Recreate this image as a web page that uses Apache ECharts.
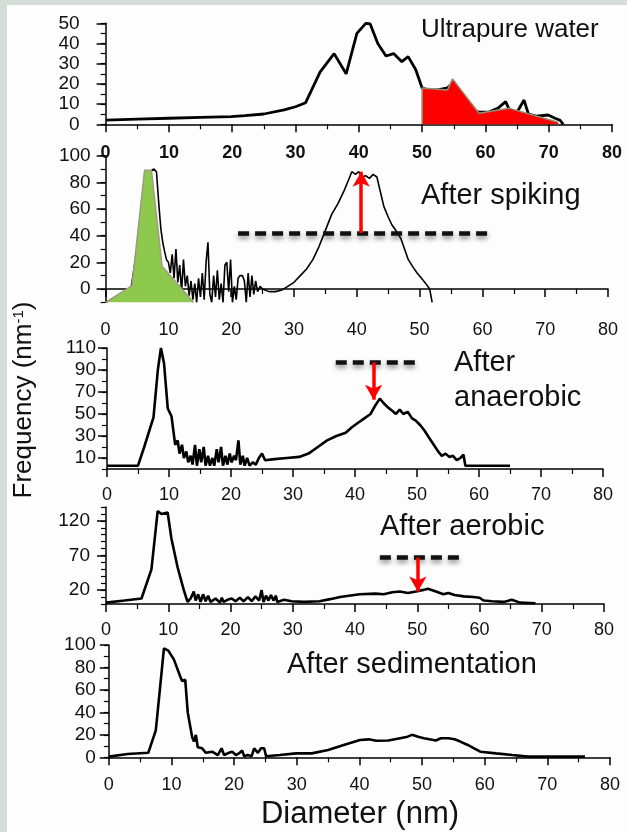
<!DOCTYPE html>
<html>
<head>
<meta charset="utf-8">
<script src="https://cdn.jsdelivr.net/npm/echarts@6/dist/echarts.min.js"></script>
<style>
html, body { margin: 0; padding: 0; background: #fff; }
#chart { width: 627px; height: 832px; }
</style>
</head>
<body>
<div id="chart"></div>
<script>
// diameter (nm) / frequency pairs
var diameterLabels = [0, 10, 20, 30, 40, 50, 60, 70, 80];

var waterCurve = [[0,2.1],[5,2.6],[10,3],[15,3.4],[19.8,3.8],[22,4.3],[25,5.1],[28.2,7.1],[30,8.7],[31.6,10.7],
  [33.9,26],[36.1,35],[38,25],[39.7,45],[41.1,50],[41.8,49.7],[43,40],[44.3,33.8],[45.5,35],[46.8,31],[47.8,33.5],
  [49,27],[50,18],[51,17],[52.5,17],[54,18],[55,21],[56.6,13.7],[57.9,7],[59,6],[60.5,6],[62,8],[63.2,11.2],
  [63.8,7],[65,6],[66.1,12],[66.8,5],[68,4],[69.9,4.6],[71,3],[71.8,2],[72.3,0]];
var waterRedZone = [[50,0],[50,18],[54,17],[54.8,22.5],[59,5.5],[63.7,8],[71.5,1]];

var spikedCurve = [[0,-10],[2,-6],[4,-1],[5,30],[6,75],[7,88],[7.7,90],[8.1,88],[8.5,62],[8.8,45],[9.1,35],[9.4,28],
  [9.7,22],[10,20],[10.3,12],[10.6,26],[10.9,8],[11.2,30],[11.5,5],[11.8,18],[12.1,-2],[12.4,22],[12.7,2],[13,10],
  [13.3,-5],[13.6,6],[13.9,-8],[14.2,4],[14.5,-10],[14.8,8],[15.1,-6],[15.4,12],[15.7,-8],[16,20],[16.3,35],[16.6,-4],
  [16.9,-10],[17.2,10],[17.5,-6],[17.8,14],[18.1,-8],[18.4,4],[18.7,-10],[19,18],[19.3,20],[19.6,-2],[19.9,22],
  [20.2,-10],[20.5,2],[20.8,-8],[21.1,8],[21.4,10],[21.8,10],[22.1,6],[22.4,-10],[22.7,12],[23,-6],[23.3,10],
  [23.6,-4],[23.9,6],[24.2,-2],[24.6,2],[25,0],[26,-2],[27,-2],[28,-1],[29,2],[30,5],[31,10],[32,15],[33,22],
  [34,32],[35,44],[36,56],[37,64],[38,74],[38.7,82],[39.2,88],[39.8,86],[40.3,88],[40.8,84],[41.4,85],[42,83],
  [42.6,86],[43.2,84],[43.8,72],[44.3,62],[45,54],[45.6,48],[46.2,44],[47,38],[47.6,30],[48.2,22],[49,16],
  [49.6,12],[50.3,8],[51,4],[51.6,0],[52,-10]];
var spikedGreenZone = [[0,-10],[4.2,2.5],[6.2,89],[7.3,89],[9,17],[14,-10]];
var spikedDash = [[21.1,42],[61.5,42]];
var spikedArrow = [[40.7,42],[40.7,88]];

var anaerobicCurve = [[0,3],[5,3],[6,20],[7.5,47],[8.2,90],[8.7,110],[9.2,96],[9.8,55],[10.4,48],[11,22],[11.4,26],
  [11.7,14],[12.1,22],[12.4,10],[12.8,16],[13.1,6],[13.5,12],[13.8,4],[14.2,22],[14.5,3],[14.9,18],[15.2,6],
  [15.6,20],[15.9,3],[16.3,12],[16.6,3],[17,10],[17.3,3],[17.7,18],[18,6],[18.4,20],[18.7,3],[19.1,12],[19.4,4],
  [19.8,14],[20.1,6],[20.5,12],[20.8,8],[21.2,26],[21.5,4],[21.9,12],[22.2,3],[22.6,10],[23,3],[23.5,6],[24,4],
  [24.5,10],[25,14],[25.5,8],[27,9],[29,10],[31,11],[32.5,14],[34,20],[35.5,26],[37,30],[38.5,33],[39.5,38],
  [40.5,42],[41.5,46],[42.5,50],[43.3,58],[44,64],[44.6,60],[45.3,56],[46,53],[46.6,50],[47.2,54],[47.8,50],
  [48.5,52],[49.2,46],[49.8,44],[50.5,40],[51.2,35],[52,28],[52.7,22],[53.4,16],[54,12],[54.6,14],[55.2,11],
  [55.8,12],[56.4,8],[57,10],[57.5,13],[57.8,3],[65,3]];
var anaerobicDash = [[36.9,97],[49.8,97]];
var anaerobicArrow = [[43,97],[43,63]];

var aerobicCurve = [[0,2],[3,5],[5.7,8],[7.3,50],[8.3,134],[8.9,130],[9.9,132],[10.5,95],[11.5,53],[12.5,20],[13.1,3],
  [13.6,8],[14.1,18],[14.4,5],[14.8,14],[15.2,3],[15.6,14],[16,4],[16.4,12],[16.8,3],[17.6,8],[18.3,2],[18.6,9],
  [18.9,3],[19.5,6],[20.2,8],[20.8,4],[21.5,9],[22.1,4],[22.8,10],[23.4,4],[24,11],[24.6,5],[25,20],[25.3,3],
  [25.7,12],[26.1,5],[26.5,13],[26.9,5],[27.3,12],[27.5,3],[28.6,6],[29.8,4],[31.8,3],[34.3,4],[36,7],[37.6,10],
  [39,12],[40.8,14],[43.3,15],[44.6,14],[46,17],[47.2,18],[48.5,16],[49.8,18],[50.8,20],[51.7,22],[53,18],
  [54.2,14],[55,16],[56,13],[57.5,11],[59,10],[60,9],[60.7,5],[62,4],[63.9,3],[65.2,6],[66.5,2],[69,1]];
var aerobicDash = [[44,67],[56.8,67]];
var aerobicArrow = [[50.1,67],[50.1,18]];

var sedimentCurve = [[0,0.6],[3,3],[6.3,4],[7.5,24],[8.2,63],[8.8,97],[9.5,95],[10.4,87],[11.4,72],[11.7,68],[12.2,69],
  [12.6,40],[13.3,18],[13.6,14],[13.9,20],[14.2,9],[14.9,8],[15.5,4],[16.5,5],[17.4,2],[18,8],[18.4,2],[19.2,4],
  [19.7,5],[20.3,2],[20.9,4],[21.3,6],[21.6,1],[22.2,2],[22.8,1],[23.2,8],[23.8,4],[24.3,8],[24.8,8],[25.1,1],
  [27.3,2],[29.9,3.5],[32.4,3.5],[35,6.5],[37.5,11],[40.1,15.4],[41.5,16],[42.7,14.8],[44.6,15],[46.5,17],
  [47.5,18],[48.4,20],[49.5,18],[50.3,17],[51.2,16],[52.2,15],[53,17],[54.2,17],[55.2,16],[56.1,14],[57.3,11],
  [58.3,8],[59.3,5],[61.8,3.5],[64.4,2],[66.9,0.6],[76,0.6]];

// y labels per panel
var waterYLabels = [0, 10, 20, 30, 40, 50];
var spikedYLabels = [0, 20, 40, 60, 80, 100];
var anaerobicYLabels = [10, 30, 50, 70, 90, 110];
var aerobicYLabels = [20, 70, 120];
var sedimentYLabels = [0, 20, 40, 60, 80, 100];

var FONT = '"Liberation Sans", Arial, sans-serif';

var grids = [
  { left: 105.6, top: 23.3, width: 506.4, height: 101 },
  { left: 105.6, top: 155.7, width: 502.4, height: 146.6 },
  { left: 107, top: 348, width: 496, height: 121 },
  { left: 106, top: 507, width: 498, height: 97 },
  { left: 108.8, top: 645, width: 501.2, height: 112.3 }
];

function xAxis(gi, margin, bold) {
  return {
    type: 'value', gridIndex: gi, min: 0, max: 80, interval: 10,
    axisLine: { lineStyle: { color: '#000', width: 1.5 } },
    axisTick: { length: 8, lineStyle: { color: '#000', width: 1.5 } },
    minorTick: { show: true, splitNumber: 2, length: 5, lineStyle: { color: '#000', width: 1.2 } },
    splitLine: { show: false },
    axisLabel: { fontSize: 18, color: '#111', fontFamily: FONT, margin: margin, fontWeight: bold ? 'bold' : 'normal' }
  };
}

// main y axis: labels + long ticks, second one: short ticks
function yAxes(gi, min, max, labels, step, margin) {
  return [{
    type: 'value', gridIndex: gi, min: min, max: max, position: 'left',
    axisLine: { show: true, lineStyle: { color: '#000', width: 1.5 } },
    axisTick: { show: true, length: 9, customValues: labels, lineStyle: { color: '#000', width: 1.5 } },
    splitLine: { show: false },
    axisLabel: { customValues: labels, fontSize: 19, color: '#111', fontFamily: FONT, margin: margin }
  }, {
    type: 'value', gridIndex: gi, min: min, max: max, interval: step, position: 'left',
    axisLine: { show: false },
    axisTick: { show: true, length: 5, lineStyle: { color: '#000', width: 1.2 } },
    splitLine: { show: false },
    axisLabel: { show: false }
  }];
}

var yAxisList = [].concat(
  yAxes(0, 0, 50, waterYLabels, 5, 26),
  yAxes(1, -10, 100, spikedYLabels, 10, 15),
  yAxes(2, 0, 110, anaerobicYLabels, 10, 11),
  yAxes(3, 0, 140, aerobicYLabels, 10, 16),
  yAxes(4, 0, 100, sedimentYLabels, 10, 13)
);

function curve(gi, data, width) {
  return {
    type: 'line', xAxisIndex: gi, yAxisIndex: gi * 2, data: data,
    symbol: 'none', z: 3,
    lineStyle: { color: '#000', width: width }
  };
}

function marks(dash, arrow) {
  return {
    silent: true, animation: false, label: { show: false },
    data: [
      [{ coord: dash[0], symbol: 'none', lineStyle: { color: '#111', width: 4.5, type: [11, 6],
          shadowColor: 'rgba(0,0,0,0.45)', shadowBlur: 5, shadowOffsetY: 3 } },
       { coord: dash[1], symbol: 'none' }],
      [{ coord: arrow[0], symbol: 'none', lineStyle: { color: '#ff0000', width: 3.5, type: 'solid' } },
       { coord: arrow[1], symbol: 'arrow', symbolSize: [13, 15] }]
    ]
  };
}

var series = [
  curve(0, waterCurve, 2.8),
  {
    type: 'line', xAxisIndex: 0, yAxisIndex: 0, data: waterRedZone, symbol: 'none', z: 4,
    lineStyle: { color: '#958f76', width: 1.5 },
    areaStyle: { color: '#ff0000', opacity: 1, origin: 'start' }
  },
  curve(1, spikedCurve, 1.6),
  {
    type: 'line', xAxisIndex: 1, yAxisIndex: 2, data: spikedGreenZone, symbol: 'none', z: 4,
    lineStyle: { color: '#a09a80', width: 1.5 },
    areaStyle: { color: '#8dc94c', opacity: 1, origin: 'start' },
    markLine: marks(spikedDash, spikedArrow)
  },
  Object.assign(curve(2, anaerobicCurve, 2.6), { markLine: marks(anaerobicDash, anaerobicArrow) }),
  Object.assign(curve(3, aerobicCurve, 2.6), { markLine: marks(aerobicDash, aerobicArrow) }),
  curve(4, sedimentCurve, 2.6)
];

function label(text, x, y, size, align) {
  return {
    type: 'text', x: x, y: y, z: 10, silent: true,
    style: { text: text, fill: '#111', fontSize: size, fontFamily: FONT,
      textAlign: align || 'left', textVerticalAlign: 'middle' }
  };
}

var chart = echarts.init(document.getElementById('chart'));
chart.setOption({
  animation: false,
  backgroundColor: '#d4ddd7',
  grid: grids,
  xAxis: [xAxis(0, 20, true), xAxis(1, 19), xAxis(2, 17), xAxis(3, 17), xAxis(4, 19)],
  yAxis: yAxisList,
  series: series,
  graphic: [
    { type: 'rect', z: -100, silent: true, shape: { x: 7, y: 5, width: 620, height: 827 }, style: { fill: '#fdfdfd' } },
    label('Ultrapure water', 421, 30, 26),
    label('After spiking', 421, 196, 29),
    label('After', 454, 363, 29),
    label('anaerobic', 454, 398, 29),
    label('After aerobic', 380, 527, 29),
    label('After sedimentation', 287, 665, 29),
    label('Diameter (nm)', 360, 814, 31, 'center'),
    {
      type: 'text', x: 24, y: 400, rotation: Math.PI / 2, z: 10, silent: true,
      style: {
        text: '{a|Frequency (nm}{s|-1}{a|)}', textAlign: 'center', textVerticalAlign: 'middle',
        rich: {
          a: { fontSize: 26, fontFamily: FONT, fill: '#111' },
          s: { fontSize: 15, fontFamily: FONT, fill: '#111', verticalAlign: 'top' }
        }
      }
    }
  ]
});
</script>
</body>
</html>
